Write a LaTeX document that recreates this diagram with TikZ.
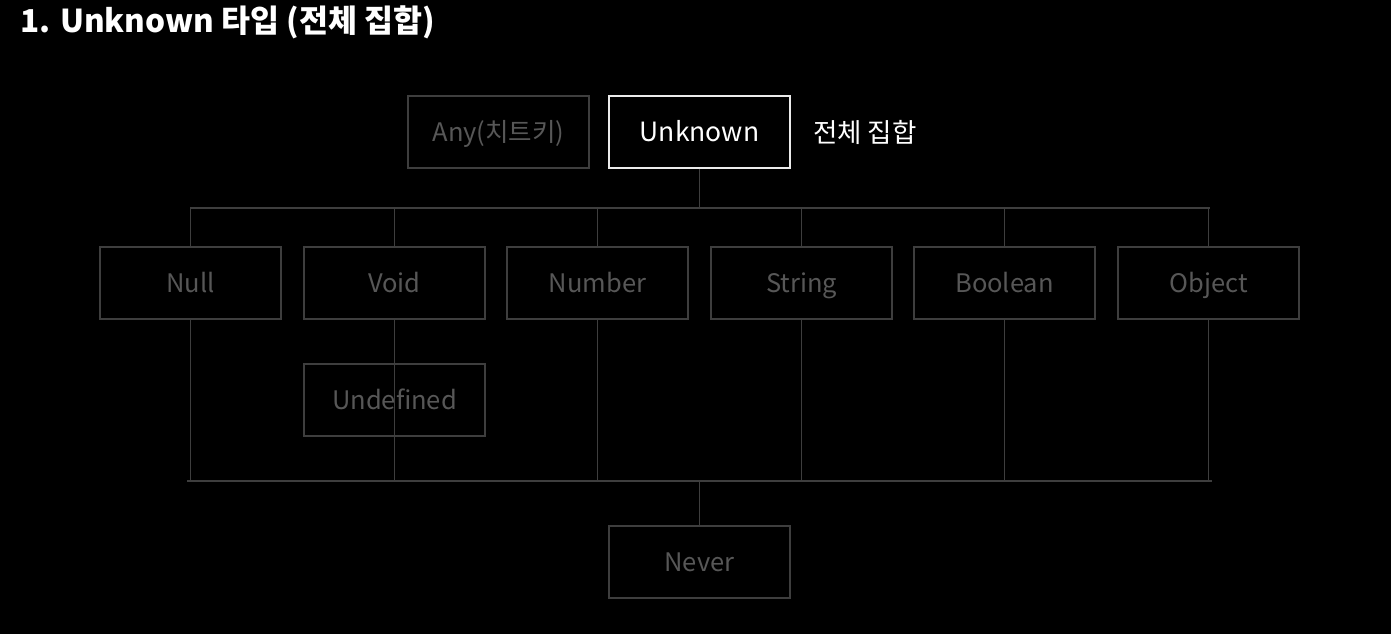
\documentclass[tikz,border=0pt]{standalone}
\usepackage{fontspec}
\setmainfont{Noto Sans CJK KR}
\definecolor{linegray}{HTML}{3E3E3E}
\definecolor{txtgray}{HTML}{575757}
\begin{document}
\begin{tikzpicture}[x=1pt,y=-1pt,
  box/.style={draw=linegray, line width=1.2pt, minimum width=181pt, minimum height=72pt, inner sep=0pt, text height=19pt, text depth=0pt, text=txtgray, font=\fontsize{25.5}{30}\selectfont},
  conn/.style={draw=linegray, line width=1.2pt}]
\fill[black] (0,0) rectangle (1391,634);
\useasboundingbox (0,0) rectangle (1391,634);
\node[anchor=west, text=white, font=\fontsize{31.5}{34}\selectfont\bfseries, inner sep=0pt] (title) at (20,22) {1. Unknown 타입 (전체 집합)};
\node[box] (any) at (498.5,132) {Any(치트키)};
\node[box, draw=white!92!black, line width=1.8pt, text=white, font=\fontsize{26.5}{30}\selectfont] (unk) at (699.5,132) {Unknown};
\node[anchor=west, text=white, font=\fontsize{26.5}{30}\selectfont, inner sep=0pt] (all) at (813,132) {전체 집합};
\node[box] (null) at (190.5,283) {Null};
\node[box] (void) at (394.5,283) {Void};
\node[box] (num) at (597.5,283) {Number};
\node[box] (str) at (801.5,283) {String};
\node[box] (bool) at (1004.5,283) {Boolean};
\node[box] (obj) at (1208.5,283) {Object};
\node[box] (undef) at (394.5,400) {Undefined};
\node[box] (never) at (699.5,562) {Never};
\coordinate (tl) at (190,208);
\coordinate (tr) at (1210,208);
\coordinate (bl) at (187,481);
\coordinate (br) at (1212,481);
\coordinate (tm) at (699.5,208);
\coordinate (bm) at (699.5,481);
\draw[conn] (tl) -- (tr);
\draw[conn] (bl) -- (br);
\draw[conn] (unk.south) -- (tm);
\draw[conn] (bm) -- (never.north);
\foreach \n in {null,void,num,str,bool,obj}{
  \draw[conn] (\n.north) -- (\n.north |- tl);
  \draw[conn] (\n.south) -- (\n.south |- bl);
}
\end{tikzpicture}
\end{document}
